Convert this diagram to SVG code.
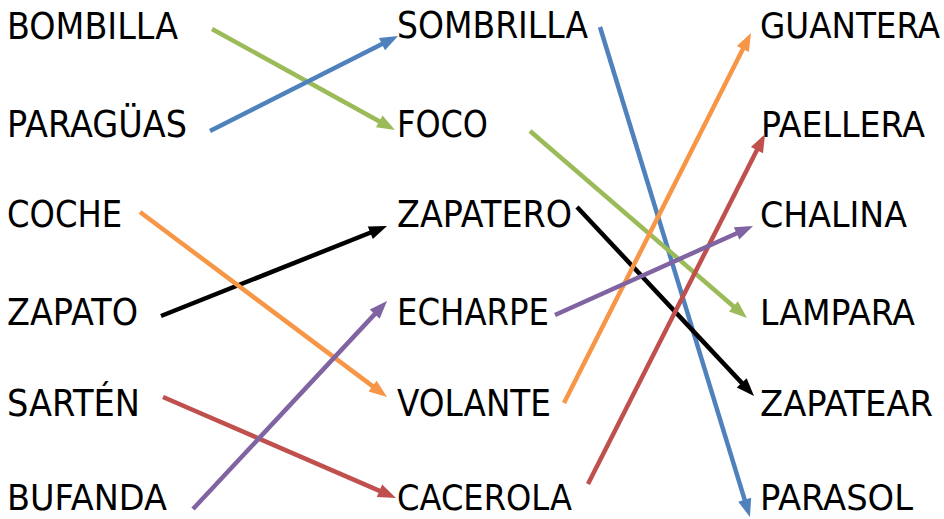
<svg xmlns="http://www.w3.org/2000/svg" width="944" height="519" viewBox="0 0 944 519">
<style>
text{font-family:"DejaVu Sans","Liberation Sans",sans-serif;font-size:37px;fill:#000}
text.bot{font-size:36px}
text.rc{font-family:"DejaVu Sans Condensed","DejaVu Sans",sans-serif;font-stretch:condensed;font-size:36px}
line{stroke-width:4.5;fill:none}
.b{stroke:#4F81BD}.g{stroke:#9BBB59}.o{stroke:#F79646}.r{stroke:#C0504D}.p{stroke:#8064A2}.k{stroke:#000}
</style>
<defs>
<marker id="mb" markerUnits="strokeWidth" markerWidth="4" markerHeight="3" refX="1" refY="1.5" orient="auto" overflow="visible"><path d="M0,0 L4,1.5 L0,3 z" fill="#4F81BD"/></marker>
<marker id="mg" markerUnits="strokeWidth" markerWidth="4" markerHeight="3" refX="1" refY="1.5" orient="auto" overflow="visible"><path d="M0,0 L4,1.5 L0,3 z" fill="#9BBB59"/></marker>
<marker id="mo" markerUnits="strokeWidth" markerWidth="4" markerHeight="3" refX="1" refY="1.5" orient="auto" overflow="visible"><path d="M0,0 L4,1.5 L0,3 z" fill="#F79646"/></marker>
<marker id="mr" markerUnits="strokeWidth" markerWidth="4" markerHeight="3" refX="1" refY="1.5" orient="auto" overflow="visible"><path d="M0,0 L4,1.5 L0,3 z" fill="#C0504D"/></marker>
<marker id="mp" markerUnits="strokeWidth" markerWidth="4" markerHeight="3" refX="1" refY="1.5" orient="auto" overflow="visible"><path d="M0,0 L4,1.5 L0,3 z" fill="#8064A2"/></marker>
<marker id="mk" markerUnits="strokeWidth" markerWidth="4" markerHeight="3" refX="1" refY="1.5" orient="auto" overflow="visible"><path d="M0,0 L4,1.5 L0,3 z" fill="#000"/></marker>
</defs>
<g id="n-bombilla"><text x="7" y="39" textLength="171" lengthAdjust="spacingAndGlyphs">BOMBILLA</text></g>
<g id="n-paraguas"><text x="7" y="137" textLength="180" lengthAdjust="spacingAndGlyphs">PARAGÜAS</text></g>
<g id="n-coche"><text x="7" y="227" textLength="115" lengthAdjust="spacingAndGlyphs">COCHE</text></g>
<g id="n-zapato"><text x="7" y="325" textLength="131" lengthAdjust="spacingAndGlyphs">ZAPATO</text></g>
<g id="n-sarten"><text x="7" y="416" textLength="133" lengthAdjust="spacingAndGlyphs">SARTÉN</text></g>
<g id="n-bufanda"><text class="bot" x="7" y="510" textLength="160" lengthAdjust="spacingAndGlyphs">BUFANDA</text></g>
<g id="n-sombrilla"><text x="397" y="38" textLength="191" lengthAdjust="spacingAndGlyphs">SOMBRILLA</text></g>
<g id="n-foco"><text x="397" y="137" textLength="91" lengthAdjust="spacingAndGlyphs">FOCO</text></g>
<g id="n-zapatero"><text x="397" y="227" textLength="175" lengthAdjust="spacingAndGlyphs">ZAPATERO</text></g>
<g id="n-echarpe"><text x="397" y="325" textLength="152" lengthAdjust="spacingAndGlyphs">ECHARPE</text></g>
<g id="n-volante"><text x="397" y="416" textLength="154" lengthAdjust="spacingAndGlyphs">VOLANTE</text></g>
<g id="n-cacerola"><text class="bot" x="397" y="510" textLength="175" lengthAdjust="spacingAndGlyphs">CACEROLA</text></g>
<g id="n-guantera"><text class="rc" x="760" y="38" textLength="180" lengthAdjust="spacingAndGlyphs">GUANTERA</text></g>
<g id="n-paellera"><text class="rc" x="761" y="137" textLength="164" lengthAdjust="spacingAndGlyphs">PAELLERA</text></g>
<g id="n-chalina"><text class="rc" x="760" y="227" textLength="147" lengthAdjust="spacingAndGlyphs">CHALINA</text></g>
<g id="n-lampara"><text class="rc" x="760" y="325" textLength="155" lengthAdjust="spacingAndGlyphs">LAMPARA</text></g>
<g id="n-zapatear"><text class="rc" x="760" y="416" textLength="173" lengthAdjust="spacingAndGlyphs">ZAPATEAR</text></g>
<g id="n-parasol"><text class="rc" x="760" y="510" textLength="153" lengthAdjust="spacingAndGlyphs">PARASOL</text></g>
<g id="connectors">
<line class="g" x1="212" y1="29" x2="383.2" y2="123.5" marker-end="url(#mg)"/>
<line class="b" x1="210" y1="131" x2="386" y2="42.1" marker-end="url(#mb)"/>
<line class="b" x1="600" y1="27" x2="746" y2="504.1" marker-end="url(#mb)"/>
<line class="g" x1="530" y1="131" x2="736.8" y2="309.2" marker-end="url(#mg)"/>
<line class="k" x1="161" y1="316" x2="374.5" y2="231" marker-end="url(#mk)"/>
<line class="k" x1="577" y1="207" x2="744.8" y2="386.1" marker-end="url(#mk)"/>
<line class="o" x1="140" y1="212" x2="376.2" y2="388.9" marker-end="url(#mo)"/>
<line class="o" x1="564" y1="403" x2="744.9" y2="45" marker-end="url(#mo)"/>
<line class="r" x1="163" y1="397" x2="383.6" y2="492.6" marker-end="url(#mr)"/>
<line class="r" x1="588" y1="484" x2="759" y2="146.1" marker-end="url(#mr)"/>
<line class="p" x1="193" y1="509" x2="377.8" y2="310.9" marker-end="url(#mp)"/>
<line class="p" x1="555" y1="315" x2="740.7" y2="231.5" marker-end="url(#mp)"/>
</g>
</svg>
